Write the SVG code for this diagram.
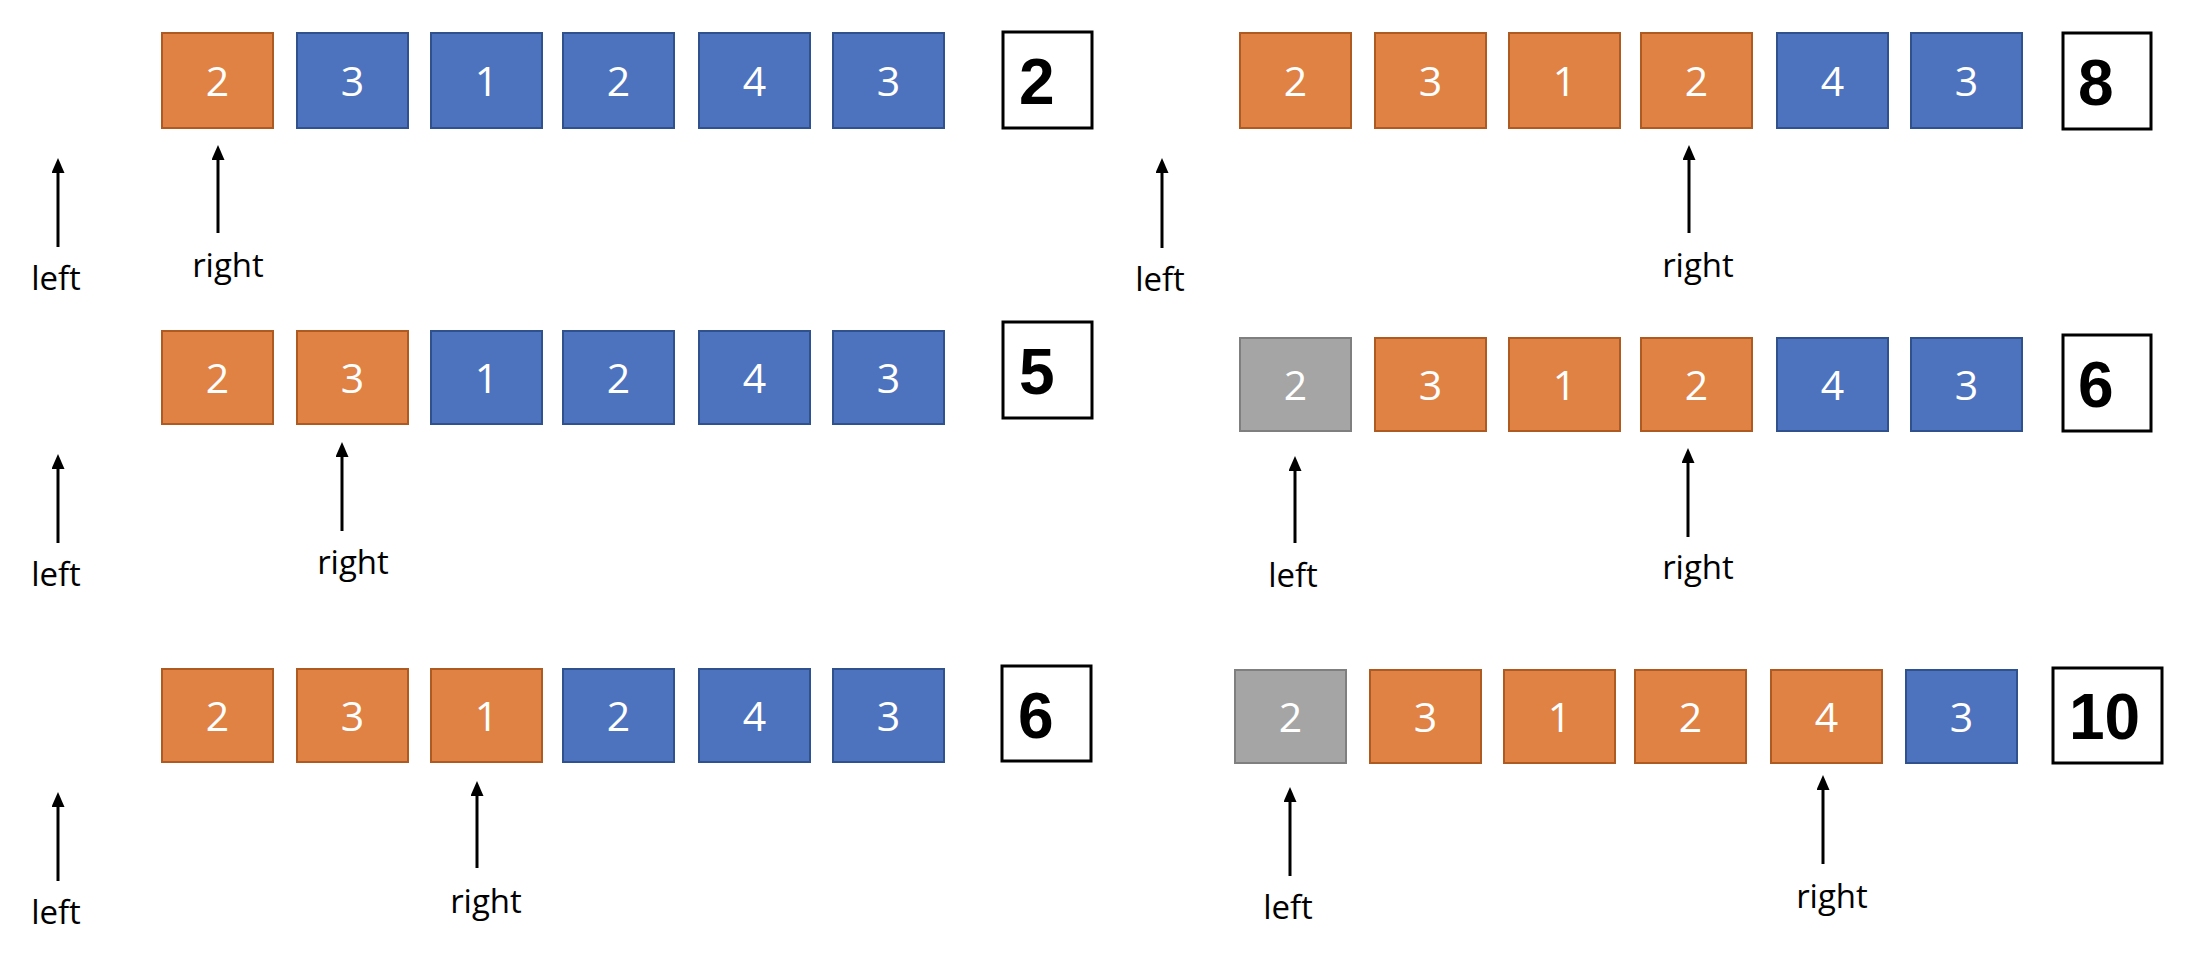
<svg xmlns="http://www.w3.org/2000/svg" width="2188" height="970" viewBox="0 0 2188 970">
  <style>
    .cell rect { stroke-width: 2; }
    .o rect { fill: #E08244; stroke: #AE5A21; }
    .b rect { fill: #4E73BE; stroke: #2F528F; }
    .g rect { fill: #A5A5A5; stroke: #7F7F7F; }
    .cell text { fill: #FFFFFF; font-family: "Open Sans", "Liberation Sans", sans-serif; font-size: 41px; text-anchor: middle; }
    .sum rect { fill: #FFFFFF; stroke: #000000; stroke-width: 3; }
    .sum text { fill: #000000; font-family: "Liberation Sans", Arial, sans-serif; font-weight: bold; font-size: 64px; }
    .ptr line { stroke: #000000; stroke-width: 3; marker-end: url(#head); }
    .lbl { fill: #000000; font-family: "Open Sans", "Liberation Sans", sans-serif; font-size: 33px; text-anchor: middle; }
  </style>
  <defs>
    <marker id="head" markerUnits="userSpaceOnUse" markerWidth="16" markerHeight="14" refX="2" refY="6.5" orient="auto">
      <path d="M0,0 L15,6.5 L0,13 Z" fill="#000000"/>
    </marker>
  </defs>
  <rect width="2188" height="970" fill="#FFFFFF"/>

  <!-- step 1 (left column, top) -->
  <g id="s1">
    <g id="s1-c0" class="cell o"><rect x="162" y="33" width="111" height="95"/><text x="217.5" y="96">2</text></g>
    <g id="s1-c1" class="cell b"><rect x="297" y="33" width="111" height="95"/><text x="352.5" y="96">3</text></g>
    <g id="s1-c2" class="cell b"><rect x="431" y="33" width="111" height="95"/><text x="486.5" y="96">1</text></g>
    <g id="s1-c3" class="cell b"><rect x="563" y="33" width="111" height="95"/><text x="618.5" y="96">2</text></g>
    <g id="s1-c4" class="cell b"><rect x="699" y="33" width="111" height="95"/><text x="754.5" y="96">4</text></g>
    <g id="s1-c5" class="cell b"><rect x="833" y="33" width="111" height="95"/><text x="888.5" y="96">3</text></g>
    <g id="s1-sum" class="sum"><rect x="1003" y="32" width="89" height="96"/><text x="1019" y="104">2</text></g>
  </g>

  <!-- step 2 (left column, middle) -->
  <g id="s2">
    <g id="s2-c0" class="cell o"><rect x="162" y="331" width="111" height="93"/><text x="217.5" y="393">2</text></g>
    <g id="s2-c1" class="cell o"><rect x="297" y="331" width="111" height="93"/><text x="352.5" y="393">3</text></g>
    <g id="s2-c2" class="cell b"><rect x="431" y="331" width="111" height="93"/><text x="486.5" y="393">1</text></g>
    <g id="s2-c3" class="cell b"><rect x="563" y="331" width="111" height="93"/><text x="618.5" y="393">2</text></g>
    <g id="s2-c4" class="cell b"><rect x="699" y="331" width="111" height="93"/><text x="754.5" y="393">4</text></g>
    <g id="s2-c5" class="cell b"><rect x="833" y="331" width="111" height="93"/><text x="888.5" y="393">3</text></g>
    <g id="s2-sum" class="sum"><rect x="1003" y="322" width="89" height="96"/><text x="1019" y="394">5</text></g>
  </g>

  <!-- step 3 (left column, bottom) -->
  <g id="s3">
    <g id="s3-c0" class="cell o"><rect x="162" y="669" width="111" height="93"/><text x="217.5" y="731">2</text></g>
    <g id="s3-c1" class="cell o"><rect x="297" y="669" width="111" height="93"/><text x="352.5" y="731">3</text></g>
    <g id="s3-c2" class="cell o"><rect x="431" y="669" width="111" height="93"/><text x="486.5" y="731">1</text></g>
    <g id="s3-c3" class="cell b"><rect x="563" y="669" width="111" height="93"/><text x="618.5" y="731">2</text></g>
    <g id="s3-c4" class="cell b"><rect x="699" y="669" width="111" height="93"/><text x="754.5" y="731">4</text></g>
    <g id="s3-c5" class="cell b"><rect x="833" y="669" width="111" height="93"/><text x="888.5" y="731">3</text></g>
    <g id="s3-sum" class="sum"><rect x="1002" y="666" width="89" height="95"/><text x="1018" y="738">6</text></g>
  </g>

  <!-- step 4 (right column, top) -->
  <g id="s4">
    <g id="s4-c0" class="cell o"><rect x="1240" y="33" width="111" height="95"/><text x="1295.5" y="96">2</text></g>
    <g id="s4-c1" class="cell o"><rect x="1375" y="33" width="111" height="95"/><text x="1430.5" y="96">3</text></g>
    <g id="s4-c2" class="cell o"><rect x="1509" y="33" width="111" height="95"/><text x="1564.5" y="96">1</text></g>
    <g id="s4-c3" class="cell o"><rect x="1641" y="33" width="111" height="95"/><text x="1696.5" y="96">2</text></g>
    <g id="s4-c4" class="cell b"><rect x="1777" y="33" width="111" height="95"/><text x="1832.5" y="96">4</text></g>
    <g id="s4-c5" class="cell b"><rect x="1911" y="33" width="111" height="95"/><text x="1966.5" y="96">3</text></g>
    <g id="s4-sum" class="sum"><rect x="2063" y="33" width="88" height="96"/><text x="2078" y="105">8</text></g>
  </g>

  <!-- step 5 (right column, middle) -->
  <g id="s5">
    <g id="s5-c0" class="cell g"><rect x="1240" y="338" width="111" height="93"/><text x="1295.5" y="400">2</text></g>
    <g id="s5-c1" class="cell o"><rect x="1375" y="338" width="111" height="93"/><text x="1430.5" y="400">3</text></g>
    <g id="s5-c2" class="cell o"><rect x="1509" y="338" width="111" height="93"/><text x="1564.5" y="400">1</text></g>
    <g id="s5-c3" class="cell o"><rect x="1641" y="338" width="111" height="93"/><text x="1696.5" y="400">2</text></g>
    <g id="s5-c4" class="cell b"><rect x="1777" y="338" width="111" height="93"/><text x="1832.5" y="400">4</text></g>
    <g id="s5-c5" class="cell b"><rect x="1911" y="338" width="111" height="93"/><text x="1966.5" y="400">3</text></g>
    <g id="s5-sum" class="sum"><rect x="2063" y="335" width="88" height="96"/><text x="2078" y="407">6</text></g>
  </g>

  <!-- step 6 (right column, bottom) -->
  <g id="s6">
    <g id="s6-c0" class="cell g"><rect x="1235" y="670" width="111" height="93"/><text x="1290.5" y="732">2</text></g>
    <g id="s6-c1" class="cell o"><rect x="1370" y="670" width="111" height="93"/><text x="1425.5" y="732">3</text></g>
    <g id="s6-c2" class="cell o"><rect x="1504" y="670" width="111" height="93"/><text x="1559.5" y="732">1</text></g>
    <g id="s6-c3" class="cell o"><rect x="1635" y="670" width="111" height="93"/><text x="1690.5" y="732">2</text></g>
    <g id="s6-c4" class="cell o"><rect x="1771" y="670" width="111" height="93"/><text x="1826.5" y="732">4</text></g>
    <g id="s6-c5" class="cell b"><rect x="1906" y="670" width="111" height="93"/><text x="1961.5" y="732">3</text></g>
    <g id="s6-sum" class="sum"><rect x="2053" y="668" width="109" height="95"/><text x="2069" y="739">10</text></g>
  </g>

  <!-- pointer arrows -->
  <g id="pointers" class="ptr">
    <line x1="58" y1="247" x2="58" y2="171"/>
    <line x1="218" y1="233" x2="218" y2="158"/>
    <line x1="58" y1="543" x2="58" y2="467"/>
    <line x1="342" y1="531" x2="342" y2="455"/>
    <line x1="58" y1="881" x2="58" y2="805"/>
    <line x1="477" y1="868" x2="477" y2="794"/>
    <line x1="1162" y1="248" x2="1162" y2="171"/>
    <line x1="1689" y1="233" x2="1689" y2="158"/>
    <line x1="1295" y1="543" x2="1295" y2="469"/>
    <line x1="1688" y1="537" x2="1688" y2="461"/>
    <line x1="1290" y1="876" x2="1290" y2="800"/>
    <line x1="1823" y1="864" x2="1823" y2="788"/>
  </g>

  <!-- pointer labels -->
  <g id="labels">
    <text class="lbl" x="56" y="290">left</text>
    <text class="lbl" x="228" y="277">right</text>
    <text class="lbl" x="56" y="586">left</text>
    <text class="lbl" x="353" y="574">right</text>
    <text class="lbl" x="56" y="924">left</text>
    <text class="lbl" x="486" y="913">right</text>
    <text class="lbl" x="1160" y="291">left</text>
    <text class="lbl" x="1698" y="277">right</text>
    <text class="lbl" x="1293" y="587">left</text>
    <text class="lbl" x="1698" y="579">right</text>
    <text class="lbl" x="1288" y="919">left</text>
    <text class="lbl" x="1832" y="908">right</text>
  </g>
</svg>
